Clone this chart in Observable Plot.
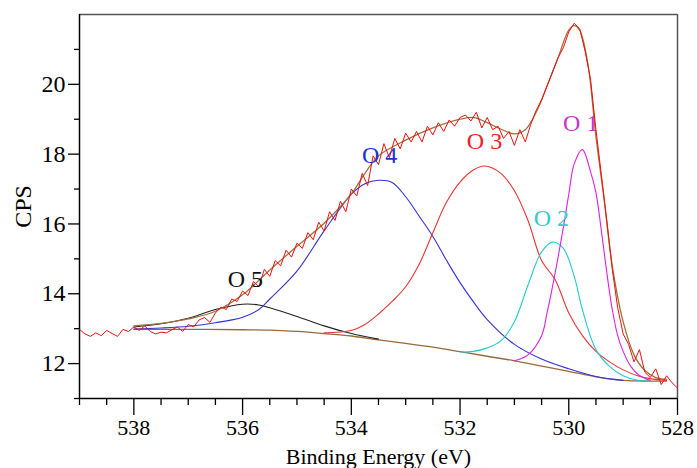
<!DOCTYPE html>
<html>
<head>
<meta charset="utf-8">
<script src="https://cdn.jsdelivr.net/npm/d3@7"></script>
<script src="https://cdn.jsdelivr.net/npm/@observablehq/plot@0.6"></script>
<style>
  html, body { margin: 0; padding: 0; background: #fff; }
  #chart { width: 697px; height: 468px; overflow: hidden; }
</style>
</head>
<body>
<div id="chart"></div>
<script>
// ---- tick values ----
const xMajor = [538, 536, 534, 532, 530, 528];
const xMinor = [539, 538.5, 537.5, 537, 536.5, 535.5, 535, 534.5, 533.5, 533, 532.5, 531.5, 531, 530.5, 529.5, 529, 528.5];
const yMajor = [12, 14, 16, 18, 20];
const yMinor = [11, 13, 15, 17, 19, 21];

// ---- raw spectrum (noisy) ----
const rawE = [539.0, 538.9, 538.8, 538.7, 538.6, 538.5, 538.4, 538.3, 538.2, 538.1,
  538.0, 537.9, 537.8, 537.7, 537.6, 537.5, 537.4, 537.3, 537.2, 537.1,
  537.0, 536.9, 536.8, 536.7, 536.6, 536.5, 536.4, 536.3, 536.2, 536.1,
  536.0, 535.9, 535.8, 535.7, 535.6, 535.5, 535.4, 535.3, 535.2, 535.1,
  535.0, 534.9, 534.8, 534.7, 534.6, 534.5, 534.4, 534.3, 534.2, 534.1,
  534.0, 533.9, 533.8, 533.7, 533.6, 533.5, 533.4, 533.3, 533.2, 533.1,
  533.0, 532.9, 532.8, 532.7, 532.6, 532.5, 532.4, 532.3, 532.2, 532.1,
  532.0, 531.9, 531.8, 531.7, 531.6, 531.5, 531.4, 531.3, 531.2, 531.1,
  531.0, 530.9, 530.8, 530.7, 530.6, 530.5, 530.4, 530.3, 530.2, 530.1,
  530.0, 529.9, 529.8, 529.7, 529.6, 529.5, 529.4, 529.3, 529.2, 529.1,
  529.0, 528.9, 528.8, 528.7, 528.6, 528.5, 528.4, 528.3, 528.2, 528.1, 528.0];
const rawCPS = [12.98, 12.85, 12.78, 12.88, 12.80, 12.95, 12.86, 12.78, 12.98, 12.92,
  13.05, 12.95, 13.08, 12.92, 12.85, 12.90, 12.88, 12.97, 13.05, 12.92,
  13.12, 13.05, 13.25, 13.32, 13.18, 13.45, 13.62, 13.55, 13.85, 13.78,
  14.08, 13.95, 14.35, 14.20, 14.70, 14.50, 14.95, 14.80, 15.25, 15.05,
  15.45, 15.30, 15.75, 15.55, 16.05, 15.80, 16.35, 16.10, 16.65, 16.35,
  17.00, 16.80, 17.45, 17.10, 17.95, 17.70, 18.30, 17.90, 18.45, 18.15,
  18.60, 18.35, 18.65, 18.35, 18.80, 18.55, 18.90, 18.65, 18.98, 18.80,
  19.05, 19.12, 18.95, 19.20, 18.75, 19.05, 18.70, 18.80, 18.45, 18.65,
  18.25, 18.70, 18.35, 18.85, 19.25, 19.55, 19.95, 20.35, 20.75, 21.05,
  21.50, 21.75, 21.60, 20.95, 20.15, 18.70, 17.40, 16.10, 14.70, 13.60,
  12.85, 12.55, 12.05, 12.40, 11.75, 11.60, 11.85, 11.40, 11.65, 11.45, 11.30];

// ---- fitted envelope ----
const envE = [538.0, 537.5, 537.0, 536.5, 536.0, 535.5, 535.0, 534.5, 534.0, 533.75, 533.5, 533.0, 532.5, 532.0, 531.75, 531.5, 531.25, 531.0, 530.8, 530.6, 530.4, 530.2, 530.0, 529.9, 529.8, 529.65, 529.5, 529.35, 529.2, 529.0, 528.8, 528.6, 528.4, 528.2];
const envV = [13.08, 13.15, 13.28, 13.50, 13.97, 14.68, 15.36, 16.02, 16.86, 17.45, 17.95, 18.40, 18.75, 19.00, 19.05, 18.90, 18.72, 18.58, 18.70, 19.20, 19.95, 20.75, 21.55, 21.68, 21.55, 20.60, 18.50, 16.70, 14.80, 13.20, 12.25, 11.80, 11.60, 11.55];

// ---- Shirley background ----
const bgE = [538.0, 537.0, 536.0, 535.5, 535.0, 534.5, 534.0, 533.5, 533.0, 532.5, 532.0, 531.5, 531.0, 530.5, 530.0, 529.5, 529.0, 528.5, 528.2];
const bgV = [12.98, 12.98, 12.97, 12.96, 12.92, 12.86, 12.79, 12.68, 12.58, 12.47, 12.34, 12.21, 12.08, 11.93, 11.78, 11.62, 11.52, 11.50, 11.50];

// ---- components ----
const o1E = [531.0, 530.75, 530.5, 530.4, 530.25, 530.1, 530.0, 529.9, 529.75, 529.6, 529.5, 529.4, 529.3, 529.2, 529.1, 529.0, 528.85, 528.7, 528.5];
const o1V = [12.08, 12.25, 12.80, 13.45, 14.60, 15.90, 16.85, 17.72, 18.13, 17.50, 16.90, 15.80, 14.60, 13.55, 12.80, 12.35, 11.90, 11.66, 11.52];

const o2E = [532.0, 531.75, 531.5, 531.25, 531.0, 530.75, 530.5, 530.3, 530.1, 529.9, 529.75, 529.5, 529.25, 529.0, 528.75, 528.5];
const o2V = [12.33, 12.35, 12.45, 12.65, 13.20, 14.25, 15.20, 15.48, 15.30, 14.50, 13.55, 12.40, 11.92, 11.65, 11.53, 11.50];

const o3E = [534.5, 534.0, 533.75, 533.5, 533.25, 533.0, 532.75, 532.5, 532.25, 532.0, 531.75, 531.55, 531.25, 531.0, 530.75, 530.5, 530.25, 530.0, 529.75, 529.5, 529.25, 529.0, 528.75, 528.5, 528.2];
const o3V = [12.88, 12.95, 13.12, 13.42, 13.78, 14.20, 14.85, 15.75, 16.62, 17.20, 17.55, 17.66, 17.45, 16.95, 16.10, 14.95, 14.40, 13.45, 12.80, 12.35, 12.05, 11.82, 11.66, 11.57, 11.52];

const o4E = [538.0, 537.5, 537.0, 536.5, 536.0, 535.7, 535.5, 535.0, 534.5, 534.0, 533.75, 533.5, 533.25, 533.0, 532.75, 532.5, 532.25, 532.0, 531.75, 531.5, 531.0, 530.5, 530.0, 529.5, 529.0];
const o4V = [12.99, 13.02, 13.07, 13.17, 13.33, 13.55, 13.85, 14.65, 15.80, 16.85, 17.15, 17.25, 17.19, 16.78, 16.22, 15.64, 14.96, 14.32, 13.76, 13.26, 12.55, 12.13, 11.85, 11.63, 11.52];

const o5E = [538.0, 537.5, 537.0, 536.5, 536.0, 535.7, 535.5, 535.0, 534.5, 534.0, 533.5];
const o5V = [13.05, 13.14, 13.30, 13.55, 13.70, 13.68, 13.60, 13.35, 13.08, 12.86, 12.70];

// ---- peak labels ----
const peakNames = ["O 1", "O 2", "O 3", "O 4", "O 5"];
const peakLabelE = [529.78, 530.32, 531.55, 533.48, 535.95];
const peakLabelV = [18.87, 16.17, 18.38, 17.96, 14.41];
const peakColors = ["#cc33cc", "#33cccc", "#ee2222", "#2233cc", "#111111"];
const lineColors = ["#dd22dd", "#22cccc", "#ee3333", "#3333dd", "#222222"];

const pts = (E, V) => E.map((e, i) => ({e, v: V[i]}));
const comps = [[o1E, o1V], [o2E, o2V], [o3E, o3V], [o4E, o4V], [o5E, o5V]];
const labels = peakNames.map((n, i) => ({n, e: peakLabelE[i], v: peakLabelV[i], c: peakColors[i]}));

const font = "'Liberation Serif', 'Times New Roman', serif";

const chart = Plot.plot({
  width: 697,
  height: 468,
  marginLeft: 79,
  marginRight: 20,
  marginTop: 14,
  marginBottom: 70,
  style: {fontFamily: font, fontSize: "24px", color: "#000", background: "#fff", overflow: "visible"},
  x: {domain: [539, 528]},
  y: {domain: [11, 22]},
  marks: [
    // minor ticks
    Plot.axisX({ticks: xMinor, tickSize: 7, tickFormat: () => "", label: null, strokeWidth: 1.3}),
    Plot.axisY({ticks: yMinor, tickSize: 5, tickFormat: () => "", label: null, strokeWidth: 1.3}),
    // major ticks
    Plot.axisX({ticks: xMajor, tickSize: 17, tickPadding: 4, strokeWidth: 1.3, fontSize: 22,
      label: "Binding Energy (eV)", labelAnchor: "center", labelOffset: 65, labelArrow: false}),
    Plot.axisY({ticks: yMajor, tickSize: 11, tickPadding: 3, strokeWidth: 1.3, fontSize: 24,
      label: "CPS", labelAnchor: "center", labelOffset: 66, labelArrow: false}),
    // frame
    Plot.ruleY([22], {stroke: "#555", strokeWidth: 1.5}),
    Plot.ruleX([528], {stroke: "#555", strokeWidth: 1.5}),
    Plot.ruleX([539], {stroke: "#000", strokeWidth: 1.5}),
    Plot.ruleY([11], {stroke: "#000", strokeWidth: 1.5}),
    // background
    Plot.line(pts(bgE, bgV), {x: "e", y: "v", stroke: "#9a6a3a", strokeWidth: 1.3, curve: "catmull-rom"}),
    // components (draw O5 first)
    ...comps.slice().reverse().map(([E, V], j) =>
      Plot.line(pts(E, V), {x: "e", y: "v", stroke: lineColors[4 - j], strokeWidth: 1.1, curve: "catmull-rom"})),
    // envelope
    Plot.line(pts(envE, envV), {x: "e", y: "v", stroke: "#a0703c", strokeWidth: 1.3, curve: "catmull-rom"}),
    // raw data
    Plot.line(pts(rawE, rawCPS), {x: "e", y: "v", stroke: "#f01010", strokeWidth: 1}),
    // peak labels
    Plot.text(labels, {x: "e", y: "v", text: "n", fill: "c", fontSize: 24, fontFamily: font})
  ]
});
document.getElementById("chart").appendChild(chart);
</script>
</body>
</html>
